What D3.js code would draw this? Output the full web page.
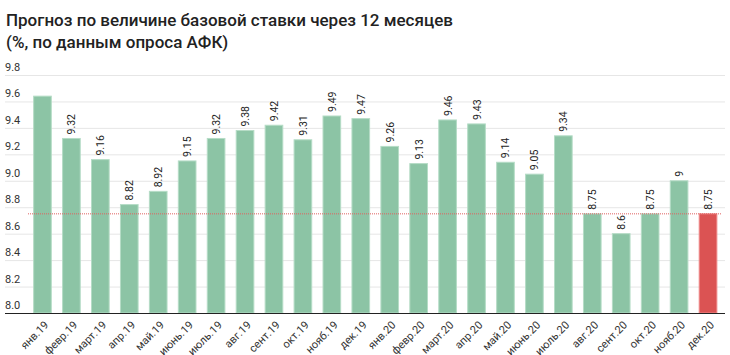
<!DOCTYPE html>
<html><head><meta charset="utf-8">
<script src="https://cdn.jsdelivr.net/npm/d3@7"></script>
<style>body{margin:0;background:#fff;font-family:Roboto,sans-serif;}</style>
</head><body><svg id="c" width="730" height="355"></svg>
<script>
const titleLines = ["Прогноз по величине базовой ставки через 12 месяцев", "(%, по данным опроса АФК)"];
const categories = ["янв.19","февр.19","март.19","апр.19","май.19","июнь.19","июль.19","авг.19","сент.19","окт.19","нояб.19","дек.19","янв.20","февр.20","март.20","апр.20","май.20","июнь.20","июль.20","авг.20","сент.20","окт.20","нояб.20","дек.20"];
const values = [9.64,9.32,9.16,8.82,8.92,9.15,9.32,9.38,9.42,9.31,9.49,9.47,9.26,9.13,9.46,9.43,9.14,9.05,9.34,8.75,8.6,8.75,9,8.75];
const valueLabels = ["","9.32","9.16","8.82","8.92","9.15","9.32","9.38","9.42","9.31","9.49","9.47","9.26","9.13","9.46","9.43","9.14","9.05","9.34","8.75","8.6","8.75","9","8.75"];
const yTicks = [8.0,8.2,8.4,8.6,8.8,9.0,9.2,9.4,9.6,9.8];
const refValue = 8.75;
const highlight = "дек.20";

const svg = d3.select("#c");
const x = d3.scaleBand().domain(categories).range([28,722.5]).paddingInner(0.39).paddingOuter(0.195);
const y = d3.scaleLinear().domain([8.0,9.8]).range([313,75]);

svg.append("g").selectAll("text").data(titleLines).join("text")
  .attr("x",6).attr("y",(d,i)=>26+i*22)
  .attr("font-size",17).attr("font-weight",500).attr("fill","#222").text(d=>d);

// grid
const g = svg.append("g");
g.selectAll("line.grid").data(yTicks.slice(1)).join("line")
  .attr("x1",5).attr("x2",725).attr("y1",d=>y(d)+0.5).attr("y2",d=>y(d)+0.5)
  .attr("stroke","#e6e6e6");
g.selectAll("text.yl").data(yTicks).join("text")
  .attr("x",5).attr("y",d=>y(d)-4)
  .attr("font-size",11).attr("fill","#333").text(d=>d.toFixed(1));

// bars
svg.append("g").selectAll("rect").data(values).join("rect")
  .attr("x",(d,i)=>x(categories[i])).attr("width",x.bandwidth())
  .attr("y",d=>y(d)).attr("height",d=>y(8.0)-y(d))
  .attr("fill",(d,i)=>categories[i]===highlight?"#db5353":"#8cc4a5")
  .attr("stroke",(d,i)=>categories[i]===highlight?"#e88":"#b5dcc6").attr("stroke-width",1);

// reference line
svg.append("line").attr("x1",28).attr("x2",722).attr("y1",y(refValue)).attr("y2",y(refValue))
  .attr("stroke","#e06060").attr("stroke-width",1).attr("stroke-dasharray","1,1");

// value labels
svg.append("g").selectAll("text").data(values).join("text")
  .attr("transform",(d,i)=>`translate(${x(categories[i])+x.bandwidth()/2+4},${y(d)-4}) rotate(-90)`)
  .attr("font-size",10.5).attr("fill","#222").text((d,i)=>valueLabels[i]);

// axis
svg.append("line").attr("x1",5).attr("x2",725).attr("y1",313.5).attr("y2",313.5).attr("stroke","#222");
const xAxis = svg.append("g").attr("transform","translate(0,313)")
  .call(d3.axisBottom(x).tickSize(0).tickPadding(0));
xAxis.select(".domain").remove();
xAxis.selectAll("text").attr("font-size",11).attr("font-family","Roboto,sans-serif").attr("fill","#333")
  .attr("text-anchor","end").attr("dy","0.35em")
  .attr("transform","translate(4,10) rotate(-45)");
</script></body></html>
